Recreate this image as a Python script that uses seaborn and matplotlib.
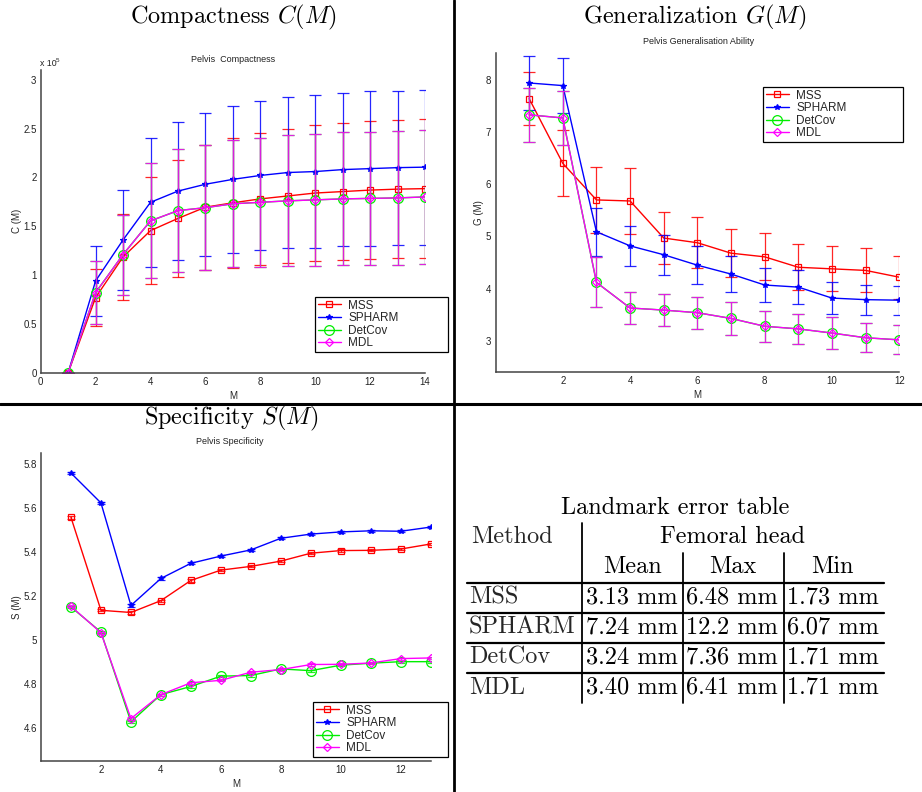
import matplotlib
matplotlib.use('Agg')
import matplotlib.pyplot as plt
import seaborn as sns
import numpy as np
from matplotlib.ticker import FormatStrFormatter, MultipleLocator

# ---- data ----
methods = ['MSS', 'SPHARM', 'DetCov', 'MDL']
colors = ['#ff0000', '#0000ff', '#00ee00', '#ff00ff']
markers = ['s', '*', 'o', 'D']

# compactness C(M), units of 1e5
comp_m = list(range(1, 15))
comp_mss = [0, 0.77, 1.185, 1.455, 1.58, 1.695, 1.74, 1.78, 1.81, 1.84, 1.855, 1.87, 1.88, 1.885]
comp_mss_sd = [0, 0.29, 0.445, 0.55, 0.60, 0.64, 0.665, 0.675, 0.685, 0.695, 0.70, 0.71, 0.71, 0.715]
comp_spharm = [0, 0.94, 1.36, 1.745, 1.86, 1.93, 1.98, 2.02, 2.05, 2.06, 2.08, 2.09, 2.10, 2.105]
comp_spharm_sd = [0, 0.36, 0.51, 0.66, 0.71, 0.73, 0.755, 0.765, 0.775, 0.78, 0.785, 0.79, 0.79, 0.795]
comp_detcov = [0, 0.82, 1.21, 1.555, 1.66, 1.69, 1.73, 1.745, 1.76, 1.77, 1.78, 1.785, 1.79, 1.80]
comp_detcov_sd = [0, 0.32, 0.41, 0.59, 0.63, 0.64, 0.65, 0.66, 0.67, 0.675, 0.68, 0.685, 0.69, 0.69]
comp_mdl = [0, 0.82, 1.21, 1.555, 1.66, 1.69, 1.73, 1.745, 1.76, 1.77, 1.78, 1.785, 1.79, 1.80]
comp_mdl_sd = [0, 0.32, 0.41, 0.59, 0.63, 0.64, 0.65, 0.66, 0.67, 0.675, 0.68, 0.685, 0.69, 0.69]

# generalization G(M)
gen_m = list(range(1, 13))
gen_mss = [7.64, 6.40, 5.70, 5.68, 4.97, 4.88, 4.68, 4.61, 4.41, 4.38, 4.35, 4.22]
gen_mss_sd = [0.51, 0.63, 0.64, 0.64, 0.49, 0.49, 0.46, 0.45, 0.44, 0.43, 0.42, 0.41]
gen_spharm = [7.94, 7.89, 5.09, 4.82, 4.65, 4.45, 4.28, 4.07, 4.03, 3.82, 3.79, 3.78]
gen_spharm_sd = [0.52, 0.52, 0.46, 0.39, 0.385, 0.36, 0.35, 0.32, 0.33, 0.30, 0.29, 0.28]
gen_detcov = [7.33, 7.27, 4.12, 3.63, 3.59, 3.54, 3.43, 3.28, 3.23, 3.15, 3.06, 3.02]
gen_detcov_sd = [0.52, 0.52, 0.48, 0.30, 0.31, 0.31, 0.31, 0.30, 0.29, 0.30, 0.28, 0.28]
gen_mdl = [7.33, 7.27, 4.12, 3.63, 3.59, 3.54, 3.43, 3.28, 3.23, 3.15, 3.06, 3.02]
gen_mdl_sd = [0.52, 0.52, 0.48, 0.30, 0.31, 0.31, 0.31, 0.30, 0.29, 0.30, 0.28, 0.28]

# specificity S(M)
spec_m = list(range(1, 14))
spec_mss = [5.558, 5.135, 5.125, 5.179, 5.271, 5.318, 5.335, 5.359, 5.395, 5.407, 5.408, 5.414, 5.437]
spec_spharm = [5.760, 5.624, 5.157, 5.280, 5.349, 5.382, 5.410, 5.463, 5.482, 5.492, 5.497, 5.495, 5.514]
spec_detcov = [5.150, 5.036, 4.627, 4.751, 4.788, 4.835, 4.838, 4.868, 4.860, 4.885, 4.894, 4.901, 4.901]
spec_mdl = [5.153, 5.033, 4.642, 4.751, 4.805, 4.816, 4.853, 4.865, 4.888, 4.889, 4.895, 4.915, 4.918]
spec_sd = [0.005, 0.005, 0.005, 0.005, 0.005, 0.005, 0.005, 0.005, 0.005, 0.005, 0.005, 0.005, 0.005]

# landmark error table
tab_methods = ['MSS', 'SPHARM', 'DetCov', 'MDL']
tab_mean = ['3.13 mm', '7.24 mm', '3.24 mm', '3.40 mm']
tab_max = ['6.48 mm', '12.2 mm', '7.36 mm', '6.41 mm']
tab_min = ['1.73 mm', '6.07 mm', '1.71 mm', '1.71 mm']

# ---- style ----
sns.set_style('white')
plt.rcParams['font.family'] = ['Liberation Sans', 'DejaVu Sans']
plt.rcParams['mathtext.fontset'] = 'cm'

W, H = 922, 792
fig = plt.figure(figsize=(W / 100, H / 100), dpi=100)
fig.patch.set_facecolor('white')


def px_box(l, t, r, b):
    return [l / W, 1 - b / H, (r - l) / W, (b - t) / H]


def fx(x):
    return x / W


def fy(y):
    return 1 - y / H


def style_axes(ax):
    for s in ['top', 'right']:
        ax.spines[s].set_visible(False)
    for s in ['left', 'bottom']:
        ax.spines[s].set_color('#444444')
        ax.spines[s].set_linewidth(1.1)
    ax.tick_params(direction='in', length=3, width=0.8, color='#444444',
                   labelsize=7, labelcolor='#222222', pad=3)
    ax.set_facecolor('white')


def draw_series(ax, xs, ys, sds, color, marker, name, ms, fill, capsize):
    ax.errorbar(xs, ys, yerr=sds, fmt='none', ecolor=color, elinewidth=0.9,
                capsize=capsize, capthick=0.9, alpha=0.85)
    sns.lineplot(x=xs, y=ys, ax=ax, color=color, marker=marker, markersize=ms,
                 mfc=fill, mec=color, mew=0.9, lw=1.0, label=name)


ms_list = [4.5, 3.8, 7, 4.2]

def make_legend(ax, l, t, w):
    handles, labels = ax.get_legend_handles_labels()
    leg = ax.legend(handles, labels, loc='upper left',
                    bbox_to_anchor=(fx(l), fy(t), w / W, 0.0001),
                    bbox_transform=fig.transFigure, mode='expand',
                    fancybox=False, edgecolor='black', framealpha=1,
                    fontsize=8.5, handlelength=2.0, handletextpad=0.6,
                    borderpad=0.22, labelspacing=0.05, borderaxespad=0)
    leg.get_frame().set_linewidth(0.9)


# ---- Compactness ----
ax1 = fig.add_axes(px_box(40.7, 70, 425, 372.7))
c_vals = [comp_mss, comp_spharm, comp_detcov, comp_mdl]
c_sds = [comp_mss_sd, comp_spharm_sd, comp_detcov_sd, comp_mdl_sd]
for i, name in enumerate(methods):
    fill = colors[i] if name == 'SPHARM' else 'none'
    draw_series(ax1, comp_m, c_vals[i], c_sds[i], colors[i], markers[i], name,
                ms_list[i], fill, 4.5)
ax1.set_xlim(0, 14)
ax1.set_ylim(0, 3.1)
ax1.xaxis.set_major_locator(MultipleLocator(2))
ax1.yaxis.set_major_locator(MultipleLocator(0.5))
ax1.yaxis.set_major_formatter(FormatStrFormatter('%g'))
ax1.set_xlabel('M', fontsize=7, labelpad=3)
ax1.set_ylabel('C (M)', fontsize=7, labelpad=1)
style_axes(ax1)
make_legend(ax1, 315, 297, 133)

# ---- Generalization ----
ax2 = fig.add_axes(px_box(495.5, 52.7, 899.3, 371.7))
g_vals = [gen_mss, gen_spharm, gen_detcov, gen_mdl]
g_sds = [gen_mss_sd, gen_spharm_sd, gen_detcov_sd, gen_mdl_sd]
for i, name in enumerate(methods):
    fill = colors[i] if name == 'SPHARM' else 'none'
    draw_series(ax2, gen_m, g_vals[i], g_sds[i], colors[i], markers[i], name,
                ms_list[i], fill, 4.5)
ax2.set_xlim(0, 12)
ax2.set_ylim(2.41, 8.52)
ax2.set_xticks([2, 4, 6, 8, 10, 12])
ax2.set_yticks([3, 4, 5, 6, 7, 8])
ax2.set_xlabel('M', fontsize=7, labelpad=3)
ax2.set_ylabel('G (M)', fontsize=7, labelpad=1)
style_axes(ax2)
make_legend(ax2, 763, 87, 140)

# ---- Specificity ----
ax3 = fig.add_axes(px_box(41, 453.3, 430.7, 760.7))
s_vals = [spec_mss, spec_spharm, spec_detcov, spec_mdl]
for i, name in enumerate(methods):
    fill = colors[i] if name == 'SPHARM' else 'none'
    draw_series(ax3, spec_m, s_vals[i], spec_sd, colors[i], markers[i], name,
                ms_list[i], fill, 3)
ax3.set_xlim(0, 13)
ax3.set_ylim(4.45, 5.85)
ax3.set_xticks([2, 4, 6, 8, 10, 12])
ax3.set_yticks([4.6, 4.8, 5.0, 5.2, 5.4, 5.6, 5.8])
ax3.yaxis.set_major_formatter(FormatStrFormatter('%g'))
ax3.set_xlabel('M', fontsize=7, labelpad=3)
ax3.set_ylabel('S (M)', fontsize=7, labelpad=1)
style_axes(ax3)
make_legend(ax3, 313, 702, 135)

# ---- overlay: titles, separators, table (pixel coords) ----
ov = fig.add_axes([0, 0, 1, 1], zorder=10)
ov.set_xlim(0, W)
ov.set_ylim(H, 0)
ov.axis('off')
ov.patch.set_alpha(0)

cm = dict(family='cmr10', color='black', ha='center', va='center')
ov.text(233, 17, r'Compactness $C(M)$', fontsize=17.5, **cm)
ov.text(695, 17, r'Generalization $G(M)$', fontsize=17.5, **cm)
ov.text(231, 418, r'Specificity $S(M)$', fontsize=17.5, **cm)

sub = dict(fontsize=6.5, ha='center', va='center', color='#222222')
ov.text(233, 60, 'Pelvis  Compactness', **sub)
ov.text(699, 42, 'Pelvis Generalisation Ability', **sub)
ov.text(230, 442, 'Pelvis Specificity', **sub)
ov.text(40, 64, 'x 10', fontsize=6.3, ha='left', va='center', color='#222222')
ov.text(56, 60, '5', fontsize=4.5, ha='left', va='center', color='#222222')

# panel separators
ov.plot([454, 454], [0, H], color='black', lw=2)
ov.plot([0, W], [404, 404], color='black', lw=2.2)

# table
tfs = 17.5
ov.text(675, 508, 'Landmark error table', fontsize=tfs, **cm)
ov.text(471, 537, 'Method', fontsize=tfs, family='cmr10', ha='left', va='center')
ov.text(732, 537, 'Femoral head', fontsize=tfs, **cm)
for xc, lab in zip([632.5, 732.5, 832.5], ['Mean', 'Max', 'Min']):
    ov.text(xc, 567, lab, fontsize=tfs, **cm)
ov.plot([582, 582], [523, 703], color='black', lw=1.3)
ov.plot([683, 683], [553, 703], color='black', lw=1.3)
ov.plot([783.5, 783.5], [553, 703], color='black', lw=1.3)
for yl in [582.7, 612.7, 642.7, 672.7]:
    ov.plot([467, 884], [yl, yl], color='black', lw=1.6)
for r in range(4):
    yc = 597.5 + 30 * r
    ov.text(469, yc, tab_methods[r], fontsize=tfs, family='cmr10', ha='left', va='center')
    ov.text(632, yc, tab_mean[r], fontsize=tfs, **cm)
    ov.text(732, yc, tab_max[r], fontsize=tfs, **cm)
    ov.text(832.5, yc, tab_min[r], fontsize=tfs, **cm)

fig.savefig('out.png', dpi=100, facecolor='white')
